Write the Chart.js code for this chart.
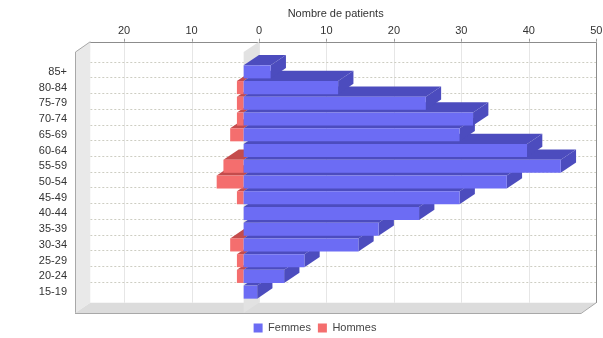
<!DOCTYPE html>
<html>
<head>
<meta charset="utf-8">
<script src="https://cdn.jsdelivr.net/npm/chart.js@4/dist/chart.umd.min.js"></script>
<style>
  html, body { margin: 0; padding: 0; background: #ffffff; }
  #wrap { width: 603px; height: 338px; }
</style>
</head>
<body>
<div id="wrap"><canvas id="c" width="603" height="338"></canvas></div>
<script>
// Age groups, top of the pyramid first
const categories = ['85+', '80-84', '75-79', '70-74', '65-69', '60-64', '55-59',
                    '50-54', '45-49', '40-44', '35-39', '30-34', '25-29', '20-24', '15-19'];
// Number of patients per age group
const femmes = [4, 14, 27, 34, 32, 42, 47, 39, 32, 26, 20, 17, 9, 6, 2];
const hommes = [0, 1, 1, 1, 2, 0, 3, 4, 1, 0, 0, 2, 1, 1, 0];
// Values shown on the patient-count axis
const xTickValues = [-20, -10, 0, 10, 20, 30, 40, 50];

const FONT = "'Liberation Sans', Arial, sans-serif";
Chart.defaults.font.family = FONT;
Chart.defaults.font.size = 11;
Chart.defaults.color = '#333333';

// oblique depth of the box and the bars
const DX = 15.3, DY = -10.3;
const PLANE_PAD_TOP = 12, PLANE_PAD_BOTTOM = 13;
const LEGEND_SHIFT = 9.5;

const faceColors = {
  Femmes: { front: '#6c6cf4', dark: '#4c4cbe' },
  Hommes: { front: '#f46e6e', dark: '#c44c4c' }
};

function poly(ctx, pts, fill, stroke) {
  ctx.beginPath();
  ctx.moveTo(pts[0][0], pts[0][1]);
  for (let i = 1; i < pts.length; i++) ctx.lineTo(pts[i][0], pts[i][1]);
  ctx.closePath();
  if (fill) { ctx.fillStyle = fill; ctx.fill(); }
  if (stroke) { ctx.strokeStyle = stroke; ctx.lineWidth = 1; ctx.stroke(); }
}

const depthBox = {
  id: 'depthBox',
  afterLayout(chart) {
    // nudge the legend a little to the right of the canvas centre
    chart.legend.left += LEGEND_SHIFT;
    chart.legend.right += LEGEND_SHIFT;
  },
  beforeDatasetsDraw(chart) {
    const { ctx, chartArea: a, scales } = chart;
    const xs = scales.x, ys = scales.y;
    const t = a.top - PLANE_PAD_TOP, b = a.bottom + PLANE_PAD_BOTTOM;
    const bl = a.left + DX, br = a.right + DX, bt = t + DY, bb = b + DY;
    ctx.save();

    // back wall: vertical grid at the axis ticks
    ctx.lineWidth = 1;
    xTickValues.forEach(v => {
      const px = Math.round(xs.getPixelForValue(v) + DX) + 0.5;
      ctx.strokeStyle = '#e6e6e6';
      ctx.beginPath(); ctx.moveTo(px, bt); ctx.lineTo(px, bb); ctx.stroke();
      ctx.strokeStyle = '#9a9a9a';
      ctx.beginPath(); ctx.moveTo(px, bt - 3); ctx.lineTo(px, bt); ctx.stroke();
    });

    // back wall: dotted line through each age group
    ctx.setLineDash([2, 2]);
    ctx.strokeStyle = '#cdcdc2';
    categories.forEach((c, i) => {
      const py = Math.round(ys.getPixelForValue(i) + DY) + 0.5;
      ctx.beginPath(); ctx.moveTo(bl, py); ctx.lineTo(br, py); ctx.stroke();
    });
    ctx.setLineDash([]);

    // back wall outline (top and right)
    ctx.strokeStyle = '#8c8c8c';
    ctx.beginPath();
    ctx.moveTo(Math.round(bl), Math.round(bt) + 0.5);
    ctx.lineTo(Math.round(br) + 0.5, Math.round(bt) + 0.5);
    ctx.lineTo(Math.round(br) + 0.5, Math.round(bb));
    ctx.stroke();

    // left wall
    poly(ctx, [[a.left, t], [bl, bt], [bl, bb], [a.left, b]], '#e9e9e9', null);
    ctx.strokeStyle = '#a8a8a8';
    ctx.beginPath();
    ctx.moveTo(a.left + 0.5, b); ctx.lineTo(a.left + 0.5, t); ctx.lineTo(bl, bt);
    ctx.stroke();

    // floor
    poly(ctx, [[a.left, b], [bl, bb], [br, bb], [a.right, b]], '#dcdcdc', null);
    ctx.strokeStyle = '#a8a8a8';
    ctx.beginPath();
    ctx.moveTo(a.left, Math.round(b) + 0.5); ctx.lineTo(a.right, Math.round(b) + 0.5);
    ctx.lineTo(br, bb);
    ctx.stroke();

    // zero plane
    const x0 = xs.getPixelForValue(0);
    poly(ctx, [[x0, t], [x0 + DX, bt], [x0 + DX, bb], [x0, b]], '#e2e2e2', null);

    // depth faces of the bars, lowest age group first
    const metas = chart.data.datasets.map((d, i) => chart.getDatasetMeta(i));
    for (let i = categories.length - 1; i >= 0; i--) {
      for (let k = metas.length - 1; k >= 0; k--) {
        const bar = metas[k].data[i];
        const col = faceColors[chart.data.datasets[k].label];
        const { x, y, base, height } = bar.getProps(['x', 'y', 'base', 'height'], true);
        if (Math.abs(x - base) < 0.5) continue;
        const xl = Math.min(x, base), xr = Math.max(x, base);
        const yt = y - height / 2, yb = y + height / 2;
        poly(ctx, [[xl, yt], [xl + DX, yt + DY], [xr + DX, yt + DY], [xr, yt]], col.dark, null);
        if (x > base) {
          poly(ctx, [[xr, yt], [xr + DX, yt + DY], [xr + DX, yb + DY], [xr, yb]], col.dark, null);
        }
      }
    }
    ctx.restore();
  },
  afterDraw(chart) {
    const { ctx, chartArea: a } = chart;
    ctx.save();
    ctx.font = '11px ' + FONT;
    ctx.fillStyle = '#333333';
    ctx.textAlign = 'center';
    ctx.textBaseline = 'middle';
    ctx.fillText('Nombre de patients', (a.left + a.right + DX) / 2, 14);
    ctx.restore();
  }
};

new Chart(document.getElementById('c'), {
  type: 'bar',
  data: {
    labels: categories,
    datasets: [
      { label: 'Femmes', data: femmes, xAxisID: 'x', yAxisID: 'y',
        backgroundColor: faceColors.Femmes.front, borderWidth: 0 },
      { label: 'Hommes', data: hommes.map(v => -v), xAxisID: 'x', yAxisID: 'y',
        backgroundColor: faceColors.Hommes.front, borderWidth: 0 }
    ]
  },
  options: {
    indexAxis: 'y',
    responsive: false,
    animation: false,
    devicePixelRatio: 1,
    categoryPercentage: 1,
    barPercentage: 0.83,
    layout: { padding: { left: 30, right: 22, top: 0, bottom: -5.5 } },
    scales: {
      x: {
        axis: 'x',
        position: 'top',
        stacked: true,
        min: -25,
        max: 50,
        grid: { display: false, drawTicks: true, tickLength: 26 },
        border: { display: false },
        afterBuildTicks: s => { s.ticks = xTickValues.map(v => ({ value: v })); },
        ticks: {
          padding: 0,
          labelOffset: DX,
          maxRotation: 0,
          autoSkip: false,
          color: '#333333',
          callback: v => String(Math.abs(v))
        },
        afterFit: s => { s.height = 64; }
      },
      y: {
        stacked: true,
        grid: { display: false, drawTicks: true, tickLength: 8 },
        border: { display: false },
        ticks: { padding: 0, color: '#333333', autoSkip: false },
        afterFit: s => { s.width = 45; }
      },
      gap: {
        axis: 'x',
        type: 'linear',
        position: 'bottom',
        display: true,
        grid: { display: false, drawTicks: false },
        border: { display: false },
        ticks: { display: false },
        afterFit: s => { s.height = 15.5; }
      }
    },
    plugins: {
      legend: {
        position: 'bottom',
        labels: { boxWidth: 9, boxHeight: 9, padding: 7, color: '#444444', font: { size: 11 } }
      },
      tooltip: { enabled: false }
    }
  },
  plugins: [depthBox]
});
</script>
</body>
</html>
